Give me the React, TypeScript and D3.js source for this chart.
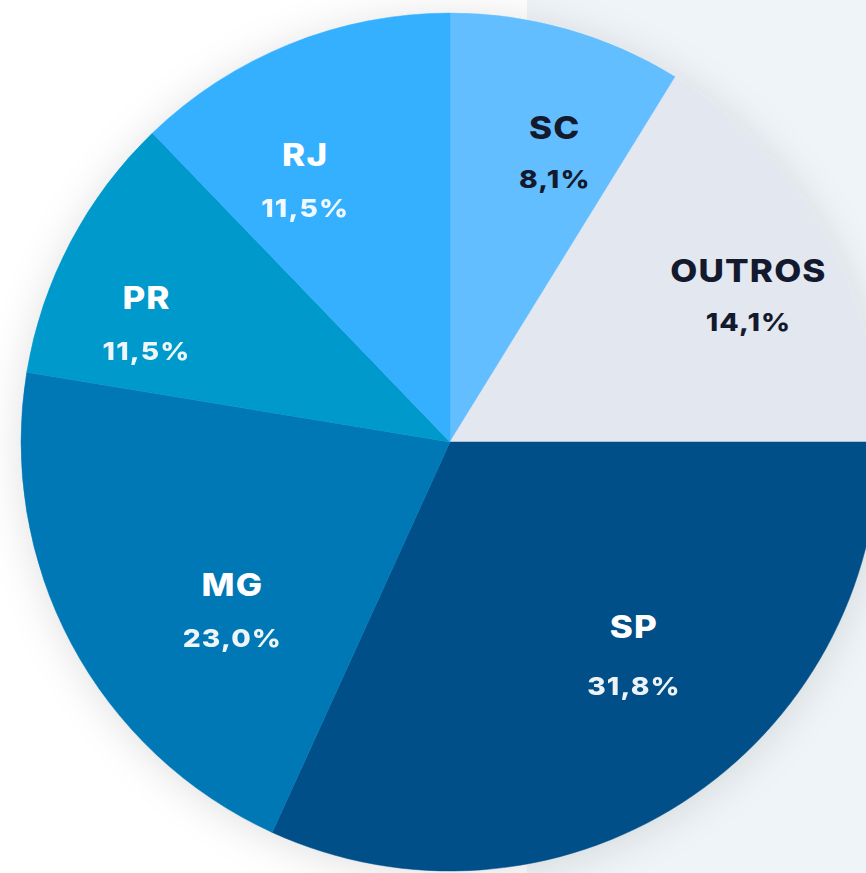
import React from "react";
import * as d3 from "d3";

// Data
const states = ["SC", "OUTROS", "SP", "MG", "PR", "RJ"];
// slice sizes as drawn (share of the full circle, %)
const sliceShares = [8.8, 16.2, 31.8, 20.8, 10.2, 12.2];
// percentage texts as printed on the slices
const percentLabels = ["8,1%", "14,1%", "31,8%", "23,0%", "11,5%", "11,5%"];

const sliceColors = ["#63beff", "#e2e7f0", "#004f88", "#0078b5", "#0099cb", "#34b0fe"];
const textColors = ["#141a2e", "#141a2e", "#ffffff", "#ffffff", "#ffffff", "#ffffff"];
// label layout: angular nudge (deg) from slice middle and distance from centre
const labelNudge = [4.75, 4.65, -6.6, -11.4, -8.2, -8];
const labelRadius = [298, 328, 290, 282, 322, 290];
const labelGap = [24, 24, 28, 25, 25, 25];

const W = 866;
const H = 873;
const CX = 450;
const CY = 442;
const R = 429;

export default function App() {
  const pie = d3
    .pie<number>()
    .sort(null)
    .value((d) => d);
  const arcs = pie(sliceShares);
  const arc = d3.arc<d3.PieArcDatum<number>>().innerRadius(0).outerRadius(R);
  const font = "Inter, 'Noto Sans', sans-serif";

  return (
    <svg
      width={W}
      height={H}
      viewBox={`0 0 ${W} ${H}`}
      style={{ position: "absolute", left: 0, top: 0, display: "block" }}
    >
      <defs>
        <filter id="sh" x="-20%" y="-20%" width="140%" height="140%">
          <feDropShadow dx="0" dy="4" stdDeviation="20" floodColor="#000" floodOpacity="0.12" />
        </filter>
      </defs>
      <rect x={0} y={0} width={W} height={H} fill="#ffffff" />
      <rect x={527} y={0} width={W - 527} height={H} fill="#eff4f8" />
      <g transform={`translate(${CX},${CY})`}>
        <g filter="url(#sh)">
          {arcs.map((a, i) => (
            <path key={states[i]} d={arc(a) || ""} fill={sliceColors[i]} stroke={sliceColors[i]} strokeWidth={0.5} />
          ))}
        </g>
        {arcs.map((a, i) => {
          const mid = (a.startAngle + a.endAngle) / 2 + (labelNudge[i] * Math.PI) / 180;
          const x = Math.sin(mid) * labelRadius[i];
          const y = -Math.cos(mid) * labelRadius[i];
          return (
            <g
              key={"l" + i}
              transform={`translate(${x},${y}) scale(1.13,1)`}
              fill={textColors[i]}
              fontFamily={font}
              fontWeight={800}
              textAnchor="middle"
            >
              <text y={-labelGap[i]} fontSize={31} letterSpacing={1}>
                {states[i]}
              </text>
              <text y={labelGap[i] + 1} fontSize={25} letterSpacing={1} opacity={textColors[i] === "#ffffff" ? 0.93 : 1}>
                {percentLabels[i]}
              </text>
            </g>
          );
        })}
      </g>
    </svg>
  );
}
